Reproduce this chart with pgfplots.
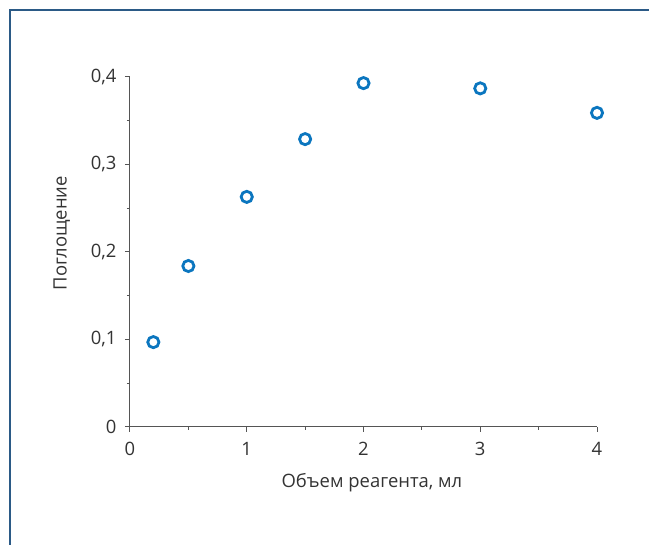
\documentclass[border=0pt]{standalone}
\usepackage{fontspec}
\setmainfont{Open Sans}
\usepackage{pgfplots}
\pgfplotsset{compat=1.18}
\definecolor{framec}{HTML}{2B5A86}
\definecolor{markc}{HTML}{0B76BF}
\definecolor{txtc}{HTML}{333333}
\definecolor{axc}{HTML}{555555}
\begin{document}
\begin{tikzpicture}[x=1bp,y=1bp]
\useasboundingbox (-130,-118) rectangle (519,427);
\draw[framec, line width=2bp] (-120,-118) -- (-120,416.5) -- (519,416.5);
\begin{axis}[
  at={(0,0)}, anchor=south west,
  scale only axis, width=467bp, height=350bp,
  xmin=0, xmax=4, ymin=0, ymax=0.4,
  axis x line*=bottom, axis y line*=left,
  axis line style={axc, line width=1bp, -},
  tick style={axc, line width=1bp},
  tick align=outside,
  major tick length=5bp, minor tick length=3bp,
  xtick={0,1,2,3,4}, ytick={0,0.1,0.2,0.3,0.4},
  minor x tick num=1, minor y tick num=1,
  /pgf/number format/assume math mode=true,
  /pgf/number format/use comma,
  yticklabel style={/pgf/number format/fixed, /pgf/number format/precision=1, xshift=-5bp},
  xticklabel style={yshift=-7bp},
  ticklabel style={font=\fontsize{18.5}{22}\selectfont, text=txtc},
  label style={font=\fontsize{18.5}{22}\selectfont, text=txtc},
  xlabel={Объем реагента, мл},
  ylabel={Поглощение},
  x label style={at={(axis description cs:0.518,-0.16)}, anchor=center},
  y label style={at={(axis description cs:-0.146,0.554)}, anchor=center, rotate=0},
  clip=false,
]
\addplot[only marks, mark=o, mark size=5.6bp, mark options={markc, line width=2.8bp}]
  coordinates {(0.2,0.097) (0.5,0.184) (1,0.263) (1.5,0.329) (2,0.393) (3,0.387) (4,0.359)};
\end{axis}
\end{tikzpicture}
\end{document}
